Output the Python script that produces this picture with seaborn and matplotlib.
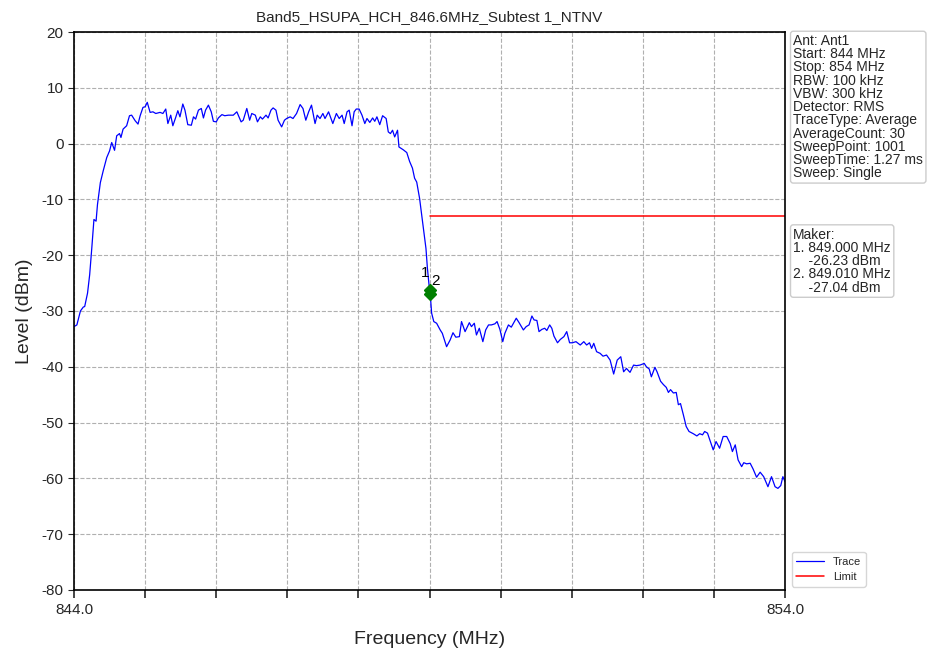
import matplotlib
matplotlib.use("Agg")
import matplotlib.pyplot as plt
import seaborn as sns
import pandas as pd

# trace (MHz, dBm)
freq = [
    844.00, 844.04, 844.09, 844.13, 844.15, 844.19, 844.22, 844.25, 844.28, 844.31,
    844.33, 844.37, 844.41, 844.46, 844.50, 844.53, 844.57, 844.60, 844.64, 844.66,
    844.69, 844.74, 844.78, 844.81, 844.86, 844.90, 844.93, 844.97, 845.00, 845.03,
    845.07, 845.11, 845.15, 845.21, 845.25, 845.29, 845.32, 845.36, 845.39, 845.43,
    845.46, 845.49, 845.53, 845.56, 845.60, 845.65, 845.68, 845.71, 845.75, 845.79,
    845.82, 845.85, 845.89, 845.93, 845.96, 846.00, 846.03, 846.08, 846.12, 846.17,
    846.24, 846.29, 846.32, 846.35, 846.38, 846.43, 846.47, 846.50, 846.55, 846.58,
    846.62, 846.65, 846.70, 846.73, 846.77, 846.80, 846.84, 846.87, 846.92, 846.96,
    846.99, 847.04, 847.08, 847.13, 847.18, 847.22, 847.26, 847.30, 847.34, 847.39,
    847.42, 847.46, 847.50, 847.53, 847.58, 847.64, 847.69, 847.73, 847.77, 847.80,
    847.84, 847.87, 847.91, 847.94, 847.97, 848.01, 848.05, 848.09, 848.12, 848.16,
    848.20, 848.23, 848.26, 848.30, 848.34, 848.39, 848.42, 848.45, 848.48, 848.51,
    848.55, 848.57, 848.63, 848.68, 848.72, 848.76, 848.79, 848.82, 848.86, 848.89,
    848.92, 848.95, 848.97, 849.00, 849.01, 849.03, 849.06, 849.10, 849.15, 849.18,
    849.24, 849.29, 849.33, 849.37, 849.42, 849.45, 849.50, 849.56, 849.59, 849.63,
    849.66, 849.70, 849.75, 849.79, 849.83, 849.87, 849.92, 849.95, 849.99, 850.03,
    850.06, 850.11, 850.15, 850.22, 850.26, 850.32, 850.36, 850.40, 850.44, 850.47,
    850.51, 850.54, 850.58, 850.62, 850.65, 850.69, 850.72, 850.75, 850.80, 850.84,
    850.89, 850.93, 850.97, 851.01, 851.06, 851.09, 851.12, 851.17, 851.21, 851.25,
    851.28, 851.31, 851.35, 851.40, 851.44, 851.49, 851.54, 851.59, 851.64, 851.69,
    851.73, 851.77, 851.82, 851.87, 851.91, 851.96, 852.02, 852.05, 852.09, 852.12,
    852.17, 852.20, 852.25, 852.29, 852.33, 852.36, 852.39, 852.43, 852.47, 852.50,
    852.53, 852.57, 852.61, 852.65, 852.71, 852.76, 852.80, 852.84, 852.87, 852.91,
    852.95, 852.99, 853.03, 853.08, 853.13, 853.18, 853.23, 853.26, 853.30, 853.34,
    853.39, 853.42, 853.46, 853.51, 853.55, 853.60, 853.65, 853.70, 853.76, 853.81,
    853.86, 853.90, 853.94, 853.97, 854.00,
]
level = [
    -32.8, -32.5, -30.0, -29.3, -29.2, -26.8, -23.5, -18.7, -13.6, -13.9,
    -10.9, -7.0, -4.9, -2.5, -1.3, 0.2, -1.2, 1.4, 1.8, 1.1,
    2.6, 3.2, 5.0, 5.1, 4.1, 3.5, 5.0, 6.5, 6.6, 7.4,
    5.6, 5.7, 5.4, 5.6, 5.4, 6.2, 3.6, 5.1, 3.2, 4.7,
    5.9, 4.8, 7.1, 6.0, 3.4, 3.3, 4.8, 4.4, 6.0, 6.3,
    4.6, 6.0, 6.9, 5.7, 4.0, 3.9, 4.6, 5.2, 5.0, 5.1,
    5.1, 5.7, 4.8, 3.9, 4.2, 6.3, 4.2, 5.4, 5.1, 3.9,
    4.8, 4.4, 5.1, 4.6, 6.0, 6.4, 6.0, 4.2, 3.0, 4.2,
    4.5, 4.8, 4.5, 5.4, 7.0, 6.3, 4.2, 5.7, 6.9, 3.6,
    5.1, 4.5, 5.4, 4.5, 5.7, 3.6, 5.4, 4.5, 5.1, 3.6,
    5.7, 6.0, 3.2, 5.7, 6.2, 6.2, 5.1, 3.6, 4.5, 3.8,
    4.6, 4.0, 4.8, 3.4, 5.0, 4.5, 2.1, 1.8, 2.4, 1.2,
    2.4, -0.6, -1.1, -1.6, -3.2, -4.4, -6.2, -6.9, -9.8, -12.8,
    -15.8, -18.8, -22.3, -26.23, -27.04, -30.4, -31.9, -32.2, -33.4, -34.0,
    -36.4, -35.2, -33.9, -34.7, -34.6, -31.9, -33.7, -32.1, -32.8, -32.2,
    -34.3, -33.1, -35.5, -33.4, -32.5, -32.5, -32.3, -31.9, -33.3, -35.5,
    -34.0, -32.5, -32.9, -31.3, -32.1, -33.4, -32.8, -32.5, -30.9, -31.6,
    -31.7, -33.7, -33.3, -33.1, -33.5, -32.5, -33.1, -34.5, -35.7, -35.1,
    -34.6, -33.7, -35.7, -35.7, -35.5, -35.8, -36.1, -35.5, -36.1, -35.7,
    -36.7, -35.8, -37.3, -37.6, -38.1, -37.9, -38.8, -41.3, -38.8, -38.2,
    -40.9, -40.3, -41.0, -39.7, -39.8, -39.7, -39.4, -40.0, -40.4, -41.8,
    -40.1, -40.9, -42.6, -43.2, -43.7, -44.6, -44.1, -44.7, -44.6, -46.8,
    -46.6, -48.6, -50.7, -51.6, -52.0, -52.4, -52.0, -52.2, -51.6, -51.9,
    -53.4, -54.9, -53.4, -54.6, -52.5, -52.5, -53.8, -55.2, -54.0, -56.7,
    -57.9, -57.2, -57.4, -57.3, -58.3, -59.8, -58.9, -59.7, -61.5, -59.7,
    -61.5, -61.8, -61.3, -59.7, -60.6,
]

limit_freq = [849.0, 854.0]
limit_level = [-13.0, -13.0]

marker_freq = [849.000, 849.010]
marker_level = [-26.23, -27.04]
marker_names = ["1", "2"]

info_lines = [
    "Ant: Ant1", "Start: 844 MHz", "Stop: 854 MHz", "RBW: 100 kHz",
    "VBW: 300 kHz", "Detector: RMS", "TraceType: Average", "AverageCount: 30",
    "SweepPoint: 1001", "SweepTime: 1.27 ms", "Sweep: Single",
]

sns.set_style("white")
plt.rcParams["font.family"] = ["Liberation Sans", "DejaVu Sans"]
plt.rcParams["axes.unicode_minus"] = False

trace = pd.DataFrame({"freq": freq, "level": level})
limit = pd.DataFrame({"freq": limit_freq, "level": limit_level})

fig = plt.figure(figsize=(9.3, 6.54), dpi=100)
ax = fig.add_axes([0.0796, 0.098, 0.7645, 0.853])

sns.lineplot(data=trace, x="freq", y="level", color="blue", lw=0.9,
             sort=False, ax=ax, label="Trace")
sns.lineplot(data=limit, x="freq", y="level", color="red", lw=1.1,
             ax=ax, label="Limit")

ax.plot(marker_freq, marker_level, ls="none", marker="D", color="green",
        markersize=6, zorder=5)
# labels sit just above the markers, nudged apart so they stay readable
for i, (mf, ml, name) in enumerate(zip(marker_freq, marker_level, marker_names)):
    ax.annotate(name, (mf, ml), xytext=(-3.5 + 7 * i, 7 - 2 * i),
                textcoords="offset points", ha="center", va="bottom",
                fontsize=11, color="black")

ax.set_xlim(844, 854)
ax.set_ylim(-80, 20)
ax.set_xticks([844 + i for i in range(11)])
ax.set_xticklabels(["844.0"] + [""] * 9 + ["854.0"], fontsize=11)
ax.set_yticks(list(range(-80, 21, 10)))
ax.tick_params(axis="y", labelsize=11, length=4, direction="out", left=True)
ax.tick_params(axis="x", length=6, direction="out", bottom=True, width=1.2)
ax.grid(True, ls="--", color="#b0b0b0", lw=0.8)
for s in ax.spines.values():
    s.set_color("black")
    s.set_linewidth(1.2)

ax.set_title("Band5_HSUPA_HCH_846.6MHz_Subtest 1_NTNV", fontsize=11, pad=8)
ax.set_xlabel("Frequency (MHz)", fontsize=14, labelpad=10)
ax.set_ylabel("Level (dBm)", fontsize=14, labelpad=6)

box = dict(boxstyle="round,pad=0.2", fc="white", ec="#cccccc", lw=1)
fig.text(0.853, 0.948, "\n".join(info_lines), fontsize=10, va="top", ha="left",
         linespacing=0.93, bbox=box)
maker_text = "Maker:\n" + "\n".join(
    f"{i + 1}. {f:.3f} MHz\n    {l:.2f} dBm"
    for i, (f, l) in enumerate(zip(marker_freq, marker_level)))
fig.text(0.853, 0.652, maker_text, fontsize=10, va="top", ha="left",
         linespacing=0.93, bbox=box)

ax.legend(loc="lower left", bbox_to_anchor=(1.005, 0.0), fontsize=8,
          frameon=True, handlelength=2.5, borderaxespad=0.3)

fig.savefig("out.png", dpi=100)
